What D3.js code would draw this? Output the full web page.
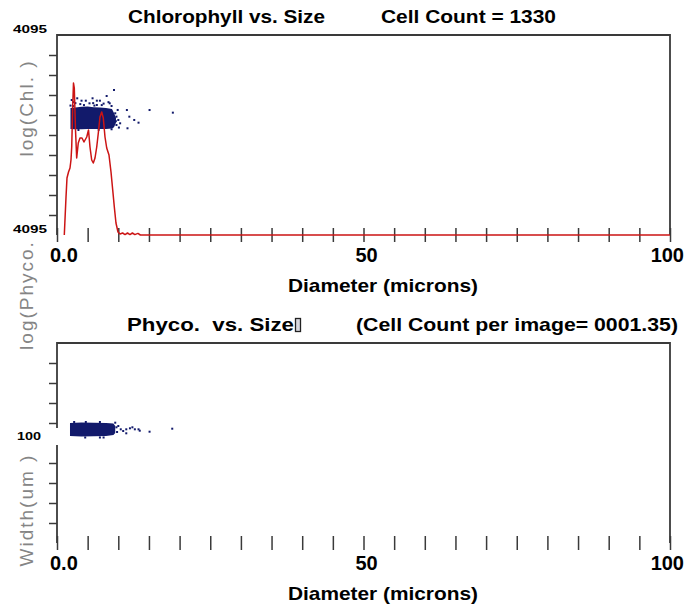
<!DOCTYPE html>
<html><head><meta charset="utf-8">
<script src="https://cdn.jsdelivr.net/npm/d3@7/dist/d3.min.js"></script>
<style>
body{margin:0;background:#fff}
svg{display:block;background:#fff}
text{font-family:"Liberation Sans",Arial,Helvetica,sans-serif}
</style>
</head><body>
<svg id="chart" width="685" height="608"></svg>
<script>
// ---------------- data ----------------
const xTickValues = [0,5,10,15,20,25,30,35,40,45,50,55,60,65,70,75,80,85,90,95,100];
const xTickLabels = [{v:0,t:"0.0"},{v:50,t:"50"},{v:100,t:"100"}];
const xTitle = "Diameter (microns)";

const chlTickValues = [409.5,819,1228.5,1638,2047.5,2457,2866.5,3276,3685.5];
const chlTickLabels = [{v:4095,t:"4095"},{v:0,t:"4095"}];
const chlTitle = "log(Chl. )";
const phycoTitle = "log(Phyco.";
const topTitles = ["Chlorophyll vs. Size", "Cell Count = 1330"];

const widthTickValues = [20,40,60,80,100,120,140,160,180];
const widthTickLabels = [{v:100,t:"100"}];
const widthTitle = "Width(um )";
const bottomTitles = ["Phyco.  vs. Size", "(Cell Count per image= 0001.35)"];

// size histogram (diameter, count) drawn in red on the top panel
const sizeHistogram = [
  [1.19,0],[1.47,19],[1.63,28.5],[1.88,31.5],[2.12,33.5],[2.28,37.5],[2.40,44],[2.56,64],
  [2.69,76],[2.82,73.5],[3.02,52.5],[3.21,38.5],[3.47,46],[3.75,48.5],[4.08,48.5],[4.40,46.5],
  [4.85,49],[5.14,52.5],[5.38,44],[5.66,37.5],[5.92,36],[6.20,38.5],[6.48,44],[6.74,51],
  [7.01,59],[7.29,61.5],[7.55,58.5],[7.83,49],[8.11,43.5],[8.48,40],[8.81,31.5],[9.09,22.5],
  [9.35,14],[9.62,6],[9.95,1.5],[10.28,0.5],[10.7,1],[11.1,0.2],[11.5,1],[11.9,0.2],
  [12.3,1],[12.7,0.2],[13.2,0.8],[13.6,0],[100,0]
];

// dense core of the chlorophyll scatter: [diameter, chl low, chl high]
const chlCore = [
  [2.2,2170,2600],[3,2165,2610],[4,2165,2625],[5,2170,2630],[6,2170,2615],
  [7,2168,2610],[8,2172,2600],[8.97,2180,2580],[9.3,2205,2500],[9.62,2300,2400]
];
// individual chlorophyll cells outside the dense core: [diameter, chl]
const chlPoints = [
  [9.3,2969],[8.1,2846],[5.8,2799],[7.0,2750],[6.5,2750],[3.3,2799],[4.0,2750],[2.4,2764],
  [4.7,2750],[5.3,2696],[8.6,2696],[8.9,2641],[11.4,2559],[11.5,2185],[11.8,2423],[12.6,2355],
  [13.3,2300],[15.1,2559],[18.9,2505],[10.0,2355],[10.3,2287],[9.7,2423],[9.5,2492],[9.7,2252],
  [6.5,2662],[3.0,2700],[3.8,2680],[5.9,2700],[7.6,2690],[2.2,2650],[2.7,2720],[4.4,2660],
  [9.9,2560],[10.1,2200],[9.6,2330],[8.4,2720],[7.3,2660],[2.6,2640],[6.1,2650],
  [3.5,2150],[6.8,2155],[8.9,2165]
];

// dense core of the width scatter: [diameter, width low, width high]
const widthCore = [
  [2.12,107,120],[4,106.5,120.5],[6,106.8,120.3],[8,107,120],[9.2,108,119.5],[9.5,110,117]
];
// individual width cells outside the dense core: [diameter, width]
const widthPoints = [
  [9.5,120.3],[9.7,115.7],[10.4,113.7],[11.3,109.7],[11.3,113.7],[11.9,114.7],[12.3,115.7],
  [12.7,113.7],[13.3,113.7],[13.5,112.3],[15.1,111.3],[18.8,114.3],[4.6,105.5],[7.0,105.5],
  [7.6,105.5],[2.8,121],[4.7,121],[7.0,121],[9.8,111],[10.0,117],[10.8,112]
];

// ---------------- drawing ----------------
const svg = d3.select("#chart");
const left = 57, right = 670;
const x = d3.scaleLinear().domain([0,100]).range([left,right]);
const NAVY = "#121a6b", RED = "#cc1414", AX = "#3a3a3a";

const top1 = 35, bot1 = 235, top2 = 343, bot2 = 543;
const yChl = d3.scaleLinear().domain([0,4095]).range([bot1,top1]);
const yCount = d3.scaleLinear().domain([0,100]).range([bot1,top1]);
const yW = d3.scaleLinear().domain([0,200]).range([bot2,top2]);

function frame(yScale, tickVals, top, bot){
  const g = svg.append("g");
  const ya = g.append("g").attr("transform",`translate(${left},0)`)
    .call(d3.axisLeft(yScale).tickValues(tickVals).tickSize(8).tickFormat(""));
  ya.select(".domain").remove();
  ya.selectAll("line").attr("stroke",AX).attr("stroke-width",1.5);
  const xa = g.append("g").attr("transform",`translate(0,${bot-7})`)
    .call(d3.axisBottom(x).tickValues(xTickValues).tickSize(14).tickFormat(""));
  xa.select(".domain").remove();
  xa.selectAll("line").attr("stroke",AX).attr("stroke-width",1.5);
  g.append("path").attr("d",`M${left},${bot}V${top}H${right}V${bot}`)
    .attr("fill","none").attr("stroke",AX).attr("stroke-width",1.8);
  return g;
}

function xLabels(bot){
  const n = xTickLabels.length;
  svg.append("g").selectAll("text").data(xTickLabels).join("text")
    .attr("x",(d,i)=> i===0 ? x(d.v)-7 : (i===n-1 ? x(d.v)+14 : x(d.v)+3))
    .attr("y",bot+27)
    .attr("text-anchor",(d,i)=> i===0 ? "start" : (i===n-1 ? "end" : "middle"))
    .attr("font-size",20).attr("font-weight","bold").attr("fill","#000")
    .text(d=>d.t);
  svg.append("text").attr("x",288).attr("y",bot+57)
    .attr("font-size",19).attr("font-weight","bold")
    .attr("textLength",190).attr("lengthAdjust","spacingAndGlyphs")
    .text(xTitle);
}

function yTitle(txt, yc){
  svg.append("text")
    .attr("transform",`translate(33,${yc}) rotate(-90)`)
    .attr("text-anchor","middle")
    .attr("font-size",19).attr("letter-spacing","2px").attr("fill","#858585")
    .text(txt);
}

// ---- top panel ----
frame(yChl, chlTickValues, top1, bot1);

svg.append("path").datum(chlCore)
  .attr("d", d3.area().x(d=>x(d[0])).y0(d=>yChl(d[1])).y1(d=>yChl(d[2])))
  .attr("fill",NAVY);
svg.append("g").selectAll("rect").data(chlPoints).join("rect")
  .attr("x",d=>x(d[0])-1).attr("y",d=>yChl(d[1])-1)
  .attr("width",2).attr("height",2).attr("fill",NAVY);

// red size histogram on top
svg.append("path").datum(sizeHistogram)
  .attr("d", d3.line().x(d=>x(d[0])).y(d=>yCount(d[1])))
  .attr("fill","none").attr("stroke",RED).attr("stroke-width",1.5)
  .attr("stroke-linejoin","round");

chlTickLabels.forEach(d=>{
  svg.append("text").attr("x",13).attr("y",yChl(d.v)-2)
    .attr("font-size",10).attr("font-weight","bold")
    .attr("textLength",34).attr("lengthAdjust","spacingAndGlyphs").text(d.t);
});
xLabels(bot1);
yTitle(chlTitle, 108);
yTitle(phycoTitle, 295);

svg.append("text").attr("x",128).attr("y",23).attr("font-size",19).attr("font-weight","bold")
  .attr("textLength",197).attr("lengthAdjust","spacingAndGlyphs").text(topTitles[0]);
svg.append("text").attr("x",381).attr("y",23).attr("font-size",19).attr("font-weight","bold")
  .attr("textLength",175).attr("lengthAdjust","spacingAndGlyphs").text(topTitles[1]);

// ---- bottom panel ----
frame(yW, widthTickValues, top2, bot2);
svg.append("path").datum(widthCore)
  .attr("d", d3.area().x(d=>x(d[0])).y0(d=>yW(d[1])).y1(d=>yW(d[2])))
  .attr("fill",NAVY);
svg.append("g").selectAll("rect").data(widthPoints).join("rect")
  .attr("x",d=>x(d[0])-1).attr("y",d=>yW(d[1])-1)
  .attr("width",2).attr("height",2).attr("fill",NAVY);

widthTickLabels.forEach(d=>{
  const yy = yW(d.v);
  svg.append("rect").attr("x",12).attr("y",yy-15).attr("width",49).attr("height",17).attr("fill","#fff");
  svg.append("text").attr("x",17).attr("y",yy-3)
    .attr("font-size",11).attr("font-weight","bold")
    .attr("textLength",24).attr("lengthAdjust","spacingAndGlyphs").text(d.t);
});
xLabels(bot2);
yTitle(widthTitle, 510);

svg.append("text").attr("x",127).attr("y",331).attr("font-size",19).attr("font-weight","bold")
  .style("white-space","pre")
  .attr("textLength",167).attr("lengthAdjust","spacingAndGlyphs").text(bottomTitles[0]);
svg.append("rect").attr("x",295.5).attr("y",318.5).attr("width",5).attr("height",13)
  .attr("fill","#d8d8e0").attr("stroke","#222").attr("stroke-width",1.3);
svg.append("text").attr("x",356).attr("y",331).attr("font-size",19).attr("font-weight","bold")
  .attr("textLength",322).attr("lengthAdjust","spacingAndGlyphs").text(bottomTitles[1]);
</script>
</body></html>
